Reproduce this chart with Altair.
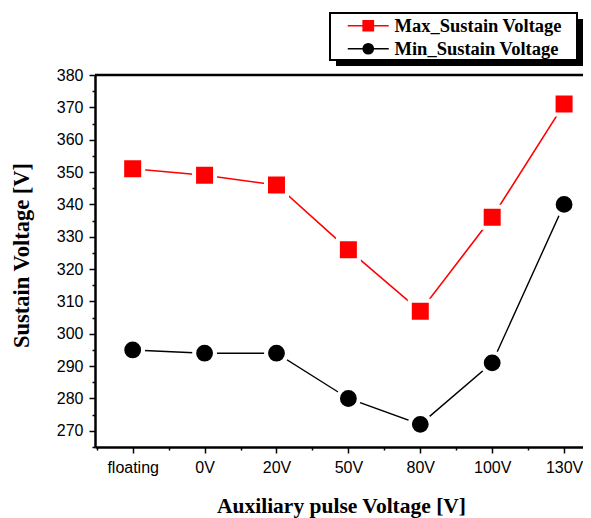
import altair as alt
import pandas as pd

categories = ["floating", "0V", "20V", "50V", "80V", "100V", "130V"]
max_sustain = [351, 349, 346, 326, 307, 336, 371]
min_sustain = [295, 294, 294, 280, 272, 291, 340]
series_names = ["Max_Sustain Voltage", "Min_Sustain Voltage"]
series_colors = ["#ff0000", "#000000"]
y_ticks = list(range(265, 381, 5))
x_ticks = [i / 2 for i in range(-1, 13)]

rows = []
for i, c in enumerate(categories):
    rows.append({"idx": i, "cat": c, "series": series_names[0], "value": max_sustain[i]})
    rows.append({"idx": i, "cat": c, "series": series_names[1], "value": min_sustain[i]})
df = pd.DataFrame(rows)
df_max = df[df.series == series_names[0]]
df_min = df[df.series == series_names[1]]

cat_js = "[" + ",".join("'" + c + "'" for c in categories) + "]"

x_enc = alt.X(
    "idx:Q",
    scale=alt.Scale(domain=[-0.524, 6.263], nice=False, zero=False),
    axis=alt.Axis(
        values=x_ticks,
        tickCount=40,
        labelExpr=f"datum.value % 1 == 0 ? {cat_js}[datum.value] : ''",
        labelOverlap=False,
        labelBound=False,
        labelFlush=False,
        tickSize={"condition": {"test": "datum.value % 1 != 0", "value": 3}, "value": 6},
        title="Auxiliary pulse Voltage [V]",
        titleX=246,
        titleY=65,
        titleBaseline="alphabetic",
        titleAlign="center",
    ),
)
y_enc = alt.Y(
    "value:Q",
    scale=alt.Scale(domain=[265, 380], nice=False, zero=False),
    axis=alt.Axis(
        values=y_ticks,
        tickCount=40,
        labelExpr="datum.value % 10 == 0 ? datum.label : ''",
        labelOverlap=False,
        labelBound=False,
        labelFlush=False,
        tickSize={"condition": {"test": "datum.value % 10 != 0", "value": 3}, "value": 6},
        title="Sustain Voltage [V]",
        titleX=-67,
        titleY=180,
        titleFontSize=22.5,
        titleBaseline="alphabetic",
        titleAlign="center",
        titleAngle=270,
    ),
)

one = alt.InlineData(values=[{"k": 1}])
shadow = alt.Chart(one).mark_rect(color="black").encode(
    x=alt.value(241), x2=alt.value(488), y=alt.value(-56), y2=alt.value(-9)
)
frame = alt.Chart(one).mark_rect(fill="white", stroke="black", strokeWidth=2).encode(
    x=alt.value(235), x2=alt.value(482), y=alt.value(-62), y2=alt.value(-15)
)

line_max = alt.Chart(df_max).mark_line(color="#ff0000", strokeWidth=1.6).encode(x=x_enc, y=y_enc)
line_min = alt.Chart(df_min).mark_line(color="#000000", strokeWidth=1.4).encode(x=x_enc, y=y_enc)
pts_max = alt.Chart(df_max).mark_point(
    shape="square", filled=True, fill="#ff0000", stroke="white", strokeWidth=4, size=441, opacity=1
).encode(x=x_enc, y=y_enc)
pts_min = alt.Chart(df_min).mark_point(
    shape="circle", filled=True, fill="#000000", stroke="white", strokeWidth=4, size=434, opacity=1
).encode(x=x_enc, y=y_enc)

top_rule = alt.Chart(one).mark_rule(color="black", strokeWidth=2.5).encode(y=alt.datum(380))

path_sq = "M-4,0H-1M1,0H4M-1,-1H1V1H-1Z"
path_ci = "M-4,0H-1M1,0H4M1,0A1,1,0,1,1,-1,0A1,1,0,1,1,1,0Z"
leg = alt.Legend(
    orient="none",
    legendX=264,
    legendY=-58.5,
    title=None,
    labelFont="Liberation Serif",
    labelFontWeight="bold",
    labelFontSize=18.5,
    labelLimit=400,
    labelColor="black",
    symbolSize=105,
    symbolStrokeWidth=1.5,
    symbolOffset=0,
    labelOffset=17,
    rowPadding=4,
    padding=0,
)
leg_df = pd.DataFrame({"idx": [0, 0], "value": [1000, 1000], "series": series_names})
legend_layer = alt.Chart(leg_df).mark_point(filled=True, clip=True, opacity=1).encode(
    x=x_enc,
    y=y_enc,
    fill=alt.Fill("series:N", scale=alt.Scale(domain=series_names, range=series_colors), legend=leg),
    stroke=alt.Stroke("series:N", scale=alt.Scale(domain=series_names, range=series_colors), legend=leg),
    shape=alt.Shape("series:N", scale=alt.Scale(domain=series_names, range=[path_sq, path_ci]), legend=leg),
)

chart = (
    alt.layer(shadow, frame, line_max, line_min, pts_max, pts_min, top_rule, legend_layer)
    .properties(
        width=488,
        height=372,
        autosize=alt.AutoSizeParams(type="none"),
        padding={"left": 87, "top": 67, "right": 0, "bottom": 72},
        background="white",
    )
    .configure_view(stroke=None)
    .configure_axis(
        grid=False,
        domainColor="black",
        domainWidth=2.5,
        tickColor="black",
        tickWidth=1.5,
        labelFont="Liberation Sans",
        labelFontSize=16,
        labelColor="black",
        labelPadding=6,
        titleFont="Liberation Serif",
        titleFontWeight="bold",
        titleFontSize=21.5,
        titleColor="black",
    )
)

chart.save("out.html", embed_options={"renderer": "svg", "actions": False})
